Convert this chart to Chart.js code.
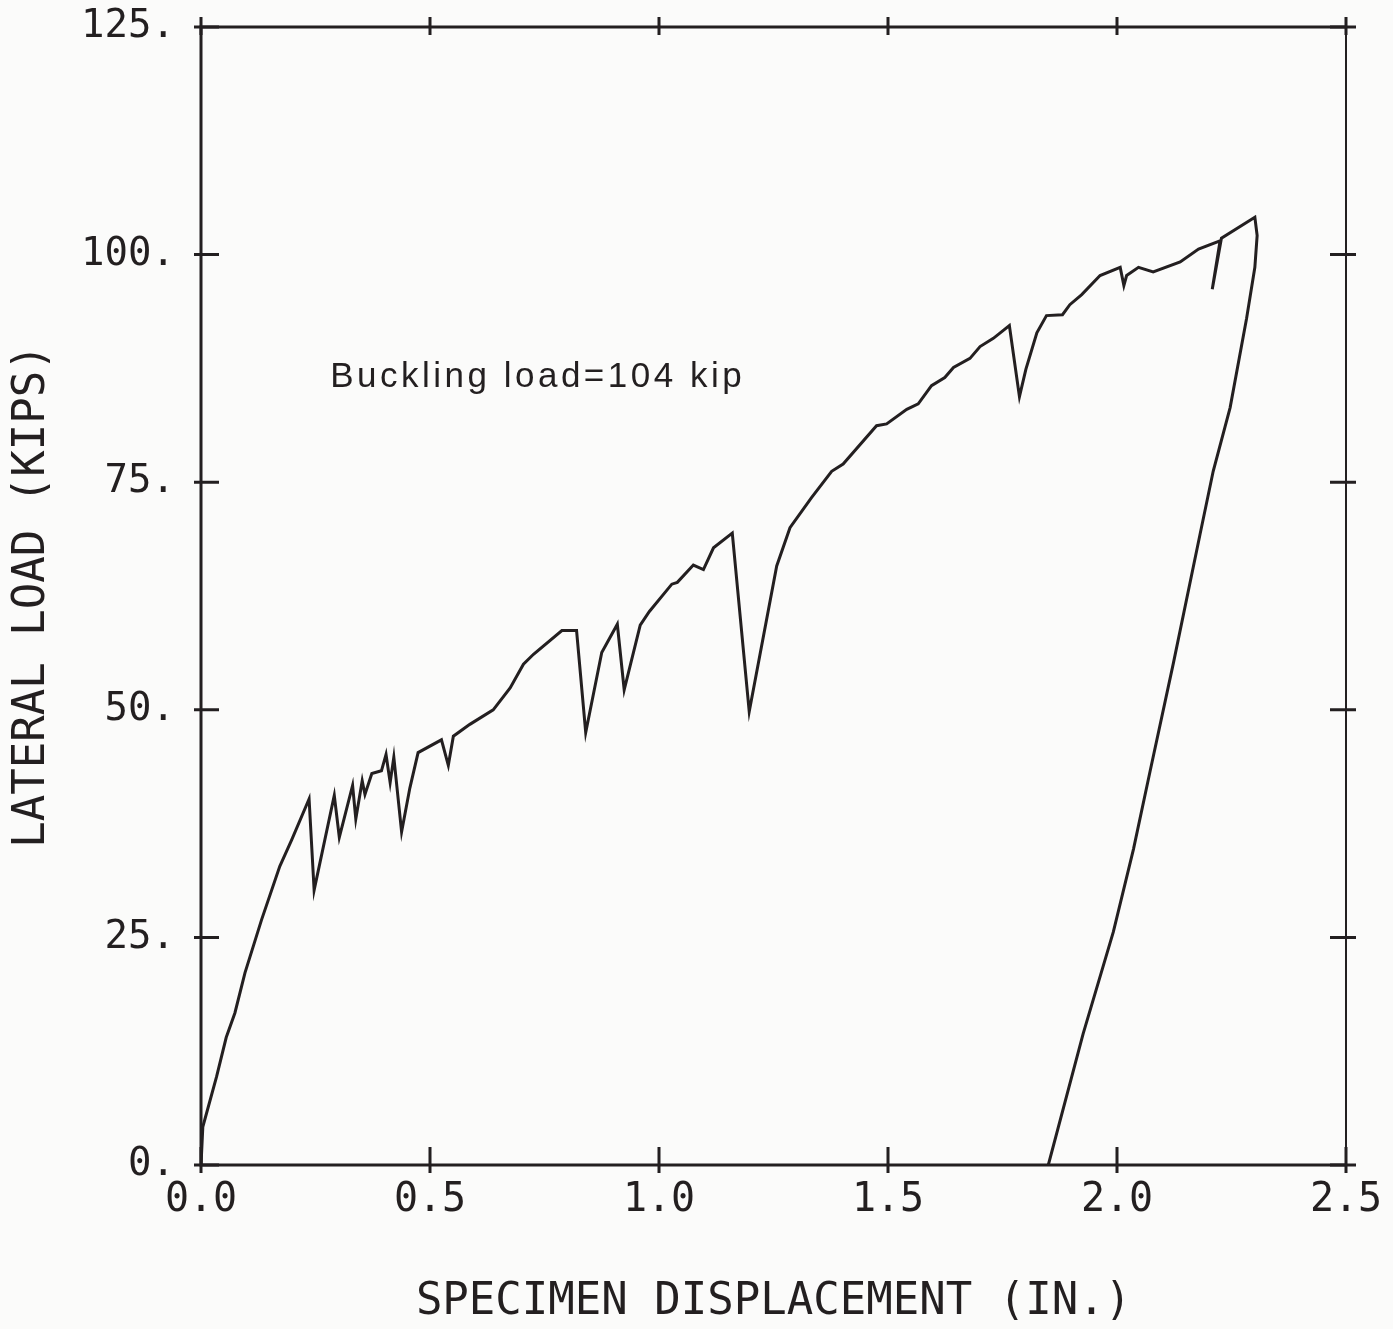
<!DOCTYPE html>
<html>
<head>
<meta charset="utf-8">
<script src="https://cdn.jsdelivr.net/npm/chart.js@4"></script>
<style>
  html, body { margin: 0; padding: 0; background: #fbfbfa; }
  #wrap { width: 1393px; height: 1329px; }
</style>
</head>
<body>
<div id="wrap"><canvas id="loadChart" width="1393" height="1329"></canvas></div>
<script>
// specimen displacement (in.) and lateral load (kips)
const disp = [
  0.000, 0.004, 0.034, 0.055, 0.074, 0.096, 0.132, 0.172, 0.198, 0.236,
  0.247, 0.291, 0.302, 0.331, 0.338, 0.352, 0.358, 0.373, 0.394, 0.404,
  0.413, 0.421, 0.438, 0.456, 0.474, 0.525, 0.540, 0.551, 0.587, 0.638,
  0.675, 0.704, 0.726, 0.788, 0.820, 0.840, 0.875, 0.909, 0.924, 0.959,
  0.979, 1.028, 1.040, 1.075, 1.097, 1.119, 1.160, 1.197, 1.257, 1.286,
  1.333, 1.377, 1.402, 1.475, 1.497, 1.541, 1.566, 1.595, 1.624, 1.643,
  1.679, 1.701, 1.730, 1.765, 1.787, 1.801, 1.825, 1.846, 1.881, 1.897,
  1.923, 1.963, 2.007, 2.015, 2.021, 2.047, 2.079, 2.138, 2.178, 2.225,
  2.208, 2.228, 2.301, 2.306, 2.301, 2.283, 2.247, 2.210, 2.181, 2.123,
  2.072, 2.036, 1.992, 1.926, 1.850
];
const load = [
  0.0, 4.2, 9.7, 14.0, 16.7, 21.1, 26.9, 32.8, 35.7, 40.2,
  30.2, 40.6, 36.0, 41.7, 38.0, 42.2, 40.7, 43.0, 43.3, 45.1,
  42.0, 44.8, 36.6, 41.4, 45.3, 46.7, 43.9, 47.1, 48.4, 50.0,
  52.4, 55.0, 56.1, 58.7, 58.7, 47.5, 56.3, 59.4, 52.2, 59.3,
  60.8, 63.8, 64.0, 65.9, 65.4, 67.8, 69.4, 49.8, 65.8, 70.0,
  73.3, 76.2, 77.0, 81.2, 81.4, 83.0, 83.6, 85.6, 86.5, 87.6,
  88.6, 89.9, 90.8, 92.2, 84.4, 87.4, 91.4, 93.3, 93.4, 94.5,
  95.6, 97.7, 98.6, 96.6, 97.7, 98.6, 98.1, 99.2, 100.6, 101.5,
  96.2, 101.8, 104.1, 102.1, 98.6, 93.0, 83.2, 76.2, 69.2, 55.1,
  43.2, 34.7, 25.6, 14.4, 0.0
];

const xTickLabels = ['0.0', '0.5', '1.0', '1.5', '2.0', '2.5'];
const yTickLabels = ['0.', '25.', '50.', '75.', '100.', '125.'];
const noteText = 'Buckling load=104 kip';
const noteAt = { x: 0.282, y: 85.5 };

const ink = '#231f20';
const points = disp.map((d, i) => ({ x: d, y: load[i] }));

// box frame with "+" style ticks on all four sides
const framePlugin = {
  id: 'frame',
  afterDraw(chart) {
    const { ctx, chartArea: a, scales } = chart;
    ctx.save();
    ctx.strokeStyle = ink;
    ctx.lineCap = 'butt';
    ctx.lineWidth = 3;
    ctx.beginPath();
    ctx.moveTo(a.right, a.top); ctx.lineTo(a.left, a.top);
    ctx.lineTo(a.left, a.bottom); ctx.lineTo(a.right, a.bottom);
    ctx.stroke();
    ctx.lineWidth = 2;
    ctx.beginPath();
    ctx.moveTo(a.right, a.top - 8); ctx.lineTo(a.right, a.bottom + 8);
    ctx.stroke();
    ctx.lineWidth = 3;
    scales.x.ticks.forEach(t => {
      const px = scales.x.getPixelForValue(t.value);
      ctx.beginPath();
      ctx.moveTo(px, a.bottom + 8); ctx.lineTo(px, a.bottom - 18);
      ctx.moveTo(px, a.top - 10); ctx.lineTo(px, a.top + 8);
      ctx.stroke();
    });
    scales.y.ticks.forEach(t => {
      const py = scales.y.getPixelForValue(t.value);
      ctx.beginPath();
      ctx.moveTo(a.left - 7, py); ctx.lineTo(a.left + 18, py);
      ctx.moveTo(a.right - 16, py); ctx.lineTo(a.right + 10, py);
      ctx.stroke();
    });
    // annotation text
    ctx.fillStyle = ink;
    ctx.font = '35px "Liberation Sans", Arial, sans-serif';
    ctx.letterSpacing = '3.5px';
    ctx.textAlign = 'left';
    ctx.textBaseline = 'alphabetic';
    ctx.fillText(noteText, scales.x.getPixelForValue(noteAt.x), scales.y.getPixelForValue(noteAt.y));
    ctx.restore();
  }
};

const monoTick = { family: '"DejaVu Sans Mono", monospace', size: 39 };
const monoTitle = { family: '"DejaVu Sans Mono", monospace', size: 44, lineHeight: 1.2 };

new Chart(document.getElementById('loadChart').getContext('2d'), {
  type: 'scatter',
  data: {
    datasets: [{
      data: points,
      showLine: true,
      borderColor: ink,
      borderWidth: 3,
      pointRadius: 0,
      tension: 0,
      fill: false
    }]
  },
  options: {
    responsive: false,
    animation: false,
    layout: { padding: { top: 27, right: 47, left: 0, bottom: 0 } },
    plugins: { legend: { display: false }, tooltip: { enabled: false } },
    scales: {
      x: {
        type: 'linear', min: 0, max: 2.5,
        afterFit: s => { s.height = 164; s.paddingLeft = 0; s.paddingRight = 0; },
        grid: { display: false, drawTicks: false },
        border: { display: false },
        ticks: {
          stepSize: 0.5, padding: 12, color: ink, font: { ...monoTick, size: 40 },
          maxRotation: 0,
          callback: (v, i) => xTickLabels[i]
        },
        title: { display: true, text: 'SPECIMEN DISPLACEMENT (IN.)', color: ink, font: monoTitle, padding: { top: 0, bottom: 0 } }
      },
      y: {
        type: 'linear', min: 0, max: 125,
        afterFit: s => { s.width = 201; s.paddingTop = 0; s.paddingBottom = 0; },
        grid: { display: false, drawTicks: false },
        border: { display: false },
        ticks: {
          stepSize: 25, padding: 26, color: ink, font: monoTick,
          callback: (v, i) => yTickLabels[i]
        },
        title: { display: true, text: 'LATERAL LOAD (KIPS)', color: ink, font: monoTitle, padding: { top: 6, bottom: 0 } }
      }
    }
  },
  plugins: [framePlugin]
});
</script>
</body>
</html>
